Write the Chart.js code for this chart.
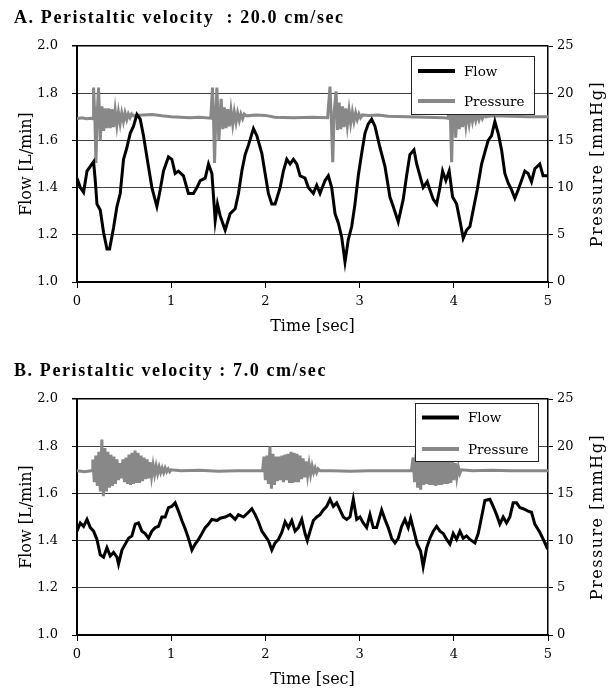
<!DOCTYPE html>
<html>
<head>
<meta charset="utf-8">
<script src="https://cdn.jsdelivr.net/npm/chart.js@4.4.0/dist/chart.umd.min.js"></script>
<style>
  html, body { margin: 0; padding: 0; background: #fff; overflow: hidden; }
  #wrap { position: relative; width: 612px; height: 690px; }
  canvas { position: absolute; left: 0; }
  #chartA { top: 0; }
  #chartB { top: 353px; }
</style>
</head>
<body>
<div id="wrap">
  <canvas id="chartA" width="612" height="353"></canvas>
  <canvas id="chartB" width="612" height="353"></canvas>
</div>
<script>
// tick values
const timeTicks = [0, 1, 2, 3, 4, 5];
const flowTicks = [1.0, 1.2, 1.4, 1.6, 1.8, 2.0];
const pressureTicks = [0, 5, 10, 15, 20, 25];

// A. peristaltic velocity 20.0 cm/sec
const flowTimeA = [0.00,0.035,0.07,0.106,0.141,0.176,0.194,0.212,0.247,0.282,
  0.318,0.346,0.388,0.424,0.459,0.494,0.530,0.565,0.600,0.636,
  0.671,0.706,0.742,0.795,0.848,0.883,0.918,0.971,1.007,1.042,
  1.077,1.130,1.183,1.236,1.273,1.308,1.361,1.396,1.432,1.467,
  1.491,1.520,1.573,1.626,1.679,1.714,1.750,1.785,1.820,1.873,
  1.909,1.962,1.997,2.032,2.068,2.103,2.156,2.191,2.227,2.262,
  2.297,2.333,2.368,2.421,2.456,2.509,2.545,2.580,2.633,2.668,
  2.704,2.739,2.774,2.810,2.845,2.880,2.916,2.951,2.986,3.022,
  3.057,3.092,3.128,3.163,3.216,3.269,3.322,3.357,3.410,3.463,
  3.499,3.534,3.577,3.606,3.641,3.675,3.718,3.747,3.782,3.818,
  3.853,3.881,3.916,3.951,3.987,4.030,4.065,4.100,4.136,4.171,
  4.206,4.248,4.295,4.330,4.365,4.401,4.436,4.471,4.507,4.542,
  4.577,4.613,4.648,4.683,4.719,4.754,4.789,4.825,4.860,4.913,
  4.948,5.000];
const flowA = [1.44,1.40,1.38,1.47,1.49,1.51,1.43,1.33,1.305,1.21,
  1.14,1.14,1.23,1.32,1.375,1.52,1.57,1.63,1.66,1.71,
  1.69,1.62,1.53,1.40,1.32,1.39,1.47,1.53,1.52,1.46,
  1.47,1.45,1.375,1.375,1.40,1.43,1.44,1.50,1.46,1.26,
  1.33,1.28,1.22,1.29,1.31,1.375,1.47,1.54,1.58,1.65,
  1.62,1.545,1.46,1.375,1.33,1.33,1.40,1.47,1.52,1.50,
  1.52,1.50,1.45,1.44,1.40,1.375,1.41,1.375,1.43,1.45,
  1.40,1.29,1.25,1.19,1.085,1.18,1.235,1.33,1.45,1.545,
  1.63,1.67,1.69,1.66,1.57,1.49,1.36,1.32,1.255,1.35,
  1.45,1.54,1.56,1.50,1.45,1.40,1.425,1.39,1.35,1.33,
  1.40,1.47,1.43,1.47,1.36,1.33,1.26,1.185,1.22,1.235,
  1.305,1.39,1.50,1.55,1.60,1.62,1.68,1.63,1.56,1.46,
  1.42,1.39,1.355,1.39,1.43,1.47,1.46,1.425,1.48,1.50,
  1.45,1.45];
const presTimeA = [0,0.05,0.10,0.15,0.17,0.176,0.19,0.201,0.215,0.229,
  0.247,0.265,0.283,0.30,0.318,0.335,0.353,0.37,0.388,0.405,
  0.423,0.44,0.458,0.475,0.493,0.51,0.528,0.545,0.563,0.58,
  0.60,0.70,0.80,0.90,1.00,1.10,1.20,1.30,1.42,1.438,
  1.45,1.46,1.475,1.485,1.506,1.53,1.548,1.565,1.583,1.60,
  1.618,1.635,1.653,1.67,1.688,1.705,1.723,1.74,1.758,1.775,
  1.80,1.90,2.00,2.10,2.30,2.50,2.66,2.686,2.70,2.715,
  2.73,2.75,2.765,2.783,2.80,2.818,2.835,2.853,2.87,2.888,
  2.905,2.923,2.94,2.958,2.975,2.993,3.01,3.03,3.10,3.20,
  3.30,3.50,3.70,3.90,3.94,3.955,3.965,3.977,3.99,4.00,
  4.02,4.04,4.058,4.075,4.093,4.11,4.128,4.145,4.163,4.18,
  4.198,4.215,4.233,4.25,4.268,4.285,4.303,4.32,4.34,4.40,
  4.60,4.80,5.00];
const presA = [17.3,17.4,17.3,17.35,17.3,20.6,17.2,12.6,18.0,20.6,
  15.0,18.6,16.0,18.4,16.3,18.4,16.3,18.3,16.4,18.2,
  16.6,18.0,16.8,17.9,17.0,17.9,17.2,17.8,17.4,17.8,
  17.6,17.7,17.75,17.6,17.5,17.45,17.4,17.45,17.35,20.6,
  17.0,12.6,18.0,20.6,15.0,19.4,16.2,18.5,16.3,18.3,
  16.5,18.2,16.7,18.0,16.9,17.9,17.1,17.8,17.3,17.8,
  17.6,17.7,17.65,17.45,17.4,17.45,17.4,20.7,17.0,12.7,
  18.0,20.2,16.1,19.0,16.2,18.6,16.4,18.4,16.6,18.2,
  16.8,18.0,17.0,17.9,17.2,17.8,17.4,17.7,17.65,17.7,
  17.55,17.5,17.45,17.4,17.35,20.5,17.0,12.7,18.0,20.4,
  15.3,18.8,16.2,18.5,16.4,18.3,16.6,18.1,16.8,18.0,
  17.0,17.9,17.1,17.8,17.2,17.8,17.3,17.7,17.5,17.6,
  17.55,17.5,17.5];

// B. peristaltic velocity 7.0 cm/sec
const flowTimeB = [0,0.035,0.07,0.106,0.141,0.176,0.212,0.247,0.282,0.318,
  0.353,0.388,0.424,0.441,0.477,0.512,0.547,0.583,0.618,0.653,
  0.689,0.724,0.759,0.795,0.830,0.865,0.901,0.936,0.971,1.007,
  1.042,1.077,1.113,1.148,1.183,1.220,1.254,1.290,1.326,1.361,
  1.396,1.432,1.485,1.520,1.573,1.626,1.679,1.714,1.767,1.820,
  1.856,1.891,1.926,1.962,1.997,2.032,2.068,2.103,2.138,2.174,
  2.209,2.244,2.280,2.315,2.350,2.386,2.421,2.445,2.474,2.509,
  2.545,2.580,2.615,2.651,2.686,2.721,2.757,2.792,2.827,2.863,
  2.898,2.933,2.969,3.004,3.039,3.075,3.110,3.145,3.181,3.234,
  3.269,3.304,3.340,3.375,3.410,3.446,3.481,3.516,3.542,3.577,
  3.612,3.648,3.675,3.712,3.747,3.782,3.818,3.853,3.888,3.924,
  3.959,3.994,4.030,4.065,4.100,4.136,4.171,4.224,4.259,4.295,
  4.330,4.383,4.418,4.454,4.489,4.524,4.560,4.595,4.630,4.666,
  4.701,4.736,4.789,4.825,4.860,4.913,4.956,4.984,5.000];
const flowB = [1.44,1.475,1.46,1.49,1.455,1.44,1.405,1.34,1.33,1.37,
  1.335,1.35,1.33,1.30,1.36,1.385,1.41,1.42,1.47,1.475,
  1.44,1.43,1.41,1.44,1.455,1.46,1.50,1.50,1.54,1.545,
  1.56,1.525,1.485,1.45,1.41,1.36,1.385,1.405,1.43,1.455,
  1.47,1.49,1.485,1.495,1.50,1.51,1.49,1.51,1.50,1.52,
  1.535,1.51,1.48,1.44,1.42,1.40,1.36,1.39,1.405,1.435,
  1.48,1.455,1.485,1.44,1.455,1.49,1.43,1.40,1.44,1.485,
  1.50,1.51,1.53,1.545,1.575,1.545,1.56,1.53,1.50,1.49,
  1.50,1.575,1.49,1.50,1.475,1.455,1.51,1.455,1.455,1.53,
  1.49,1.455,1.41,1.39,1.41,1.46,1.49,1.455,1.495,1.44,
  1.385,1.355,1.29,1.37,1.41,1.44,1.46,1.44,1.43,1.405,
  1.385,1.43,1.405,1.44,1.41,1.42,1.405,1.39,1.43,1.50,
  1.57,1.575,1.545,1.51,1.47,1.50,1.475,1.50,1.56,1.56,
  1.54,1.535,1.525,1.52,1.47,1.435,1.40,1.375,1.39];
const presTimeB = [0,0.08,0.15,0.16,0.168,0.184,0.20,0.216,0.232,0.248,
  0.264,0.28,0.296,0.312,0.328,0.344,0.36,0.376,0.392,0.408,
  0.424,0.44,0.456,0.472,0.488,0.504,0.52,0.536,0.552,0.568,
  0.584,0.60,0.616,0.632,0.648,0.664,0.68,0.696,0.712,0.728,
  0.744,0.76,0.776,0.792,0.808,0.824,0.84,0.856,0.872,0.888,
  0.904,0.92,0.936,0.952,0.968,0.984,1.00,1.10,1.30,1.50,
  1.70,1.90,1.97,1.985,2.00,2.016,2.032,2.048,2.064,2.08,
  2.096,2.112,2.128,2.144,2.16,2.176,2.192,2.208,2.224,2.24,
  2.256,2.272,2.288,2.304,2.32,2.336,2.352,2.368,2.384,2.40,
  2.416,2.432,2.448,2.464,2.48,2.496,2.512,2.528,2.544,2.56,
  2.58,2.70,2.90,3.10,3.30,3.50,3.55,3.568,3.584,3.60,
  3.616,3.632,3.648,3.664,3.68,3.696,3.712,3.728,3.744,3.76,
  3.776,3.792,3.808,3.824,3.84,3.856,3.872,3.888,3.904,3.92,
  3.936,3.952,3.968,3.984,4.00,4.016,4.032,4.048,4.064,4.08,
  4.20,4.40,4.60,4.80,5.00];
const presB = [17.4,17.3,17.4,17.4,18.6,16.2,19.0,15.8,19.4,15.2,
  20.7,14.7,19.8,15.2,19.4,15.6,19.1,15.8,18.9,16.0,
  18.6,16.4,18.2,16.6,18.6,16.2,18.8,16.0,19.1,15.9,
  19.3,16.0,19.55,16.1,19.3,16.1,19.0,16.3,18.8,16.5,
  18.6,16.6,18.3,16.8,18.0,17.0,17.9,17.1,17.8,17.2,
  17.7,17.2,17.7,17.3,17.6,17.3,17.5,17.4,17.45,17.35,
  17.4,17.4,17.4,18.9,16.4,19.0,16.0,19.97,15.5,19.2,
  15.9,18.9,16.3,18.9,16.4,19.0,16.2,19.1,16.4,19.2,
  16.1,19.4,16.1,19.3,16.2,19.2,16.2,19.0,16.5,18.7,
  16.7,18.4,16.9,18.1,17.0,17.9,17.2,17.7,17.2,17.6,
  17.4,17.4,17.35,17.4,17.4,17.4,17.4,18.8,16.2,19.2,
  15.6,19.4,15.4,19.2,15.9,19.0,16.0,19.1,15.9,19.2,
  15.9,19.1,15.8,19.0,15.9,19.0,15.9,18.9,16.0,18.9,
  16.0,18.7,16.1,18.5,16.4,18.2,16.7,17.8,17.1,17.5,
  17.4,17.45,17.4,17.4,17.4];

const serif = 'DejaVu Serif';
const titleSerif = 'Liberation Serif';

// titles, legend box and right axis title drawn on top of the chart
const panelDecor = {
  id: 'panelDecor',
  afterDatasetsDraw(chart, args, opts) {
    const ctx = chart.ctx;
    const [bx, by, bw, bh] = opts.legendBox;
    ctx.save();
    ctx.fillStyle = '#fff';
    ctx.fillRect(bx, by, bw, bh);
    ctx.strokeStyle = '#222';
    ctx.lineWidth = 1;
    ctx.strokeRect(bx + 0.5, by + 0.5, bw, bh);
    ctx.font = '13.5px "' + serif + '"';
    ctx.textBaseline = 'middle';
    chart.data.datasets.forEach((ds, i) => {
      const rowY = by + opts.rows[i];
      ctx.strokeStyle = ds.borderColor;
      ctx.lineWidth = 4;
      ctx.beginPath();
      ctx.moveTo(bx + 7, rowY);
      ctx.lineTo(bx + 44, rowY);
      ctx.stroke();
      ctx.fillStyle = '#000';
      ctx.fillText(ds.label, bx + 53, rowY + 1);
    });
    ctx.restore();
  },
  afterDraw(chart, args, opts) {
    const ctx = chart.ctx;
    const area = chart.chartArea;
    ctx.save();
    ctx.fillStyle = '#000';
    ctx.font = 'bold 18px "' + titleSerif + '"';
    ctx.textBaseline = 'middle';
    ctx.letterSpacing = '1.6px';
    ctx.fillText(opts.title, 14, 18);
    ctx.font = '16px "' + serif + '"';
    ctx.letterSpacing = '1.5px';
    ctx.translate(598, (area.top + area.bottom) / 2);
    ctx.rotate(-Math.PI / 2);
    ctx.textAlign = 'center';
    ctx.fillText('Pressure [mmHg]', 0, 0);
    ctx.restore();
  }
};

function makePanel(id, flowT, flowV, presT, presV, decor) {
  const tickFont = { family: serif, size: 13 };
  return new Chart(document.getElementById(id), {
    type: 'line',
    data: {
      datasets: [
        { label: 'Flow', yAxisID: 'y', data: flowT.map((t, i) => ({ x: t, y: flowV[i] })),
          borderColor: '#000', borderWidth: 3, pointRadius: 0, tension: 0 },
        { label: 'Pressure', yAxisID: 'y1', data: presT.map((t, i) => ({ x: t, y: presV[i] })),
          borderColor: '#888888', borderWidth: 3, pointRadius: 0, tension: 0 }
      ]
    },
    options: {
      responsive: false,
      animation: false,
      layout: { padding: { top: 46, left: 0, right: 0, bottom: 0 } },
      plugins: { legend: { display: false }, tooltip: { enabled: false }, panelDecor: decor },
      scales: {
        x: {
          type: 'linear', min: 0, max: 5,
          afterBuildTicks: s => { s.ticks = timeTicks.map(v => ({ value: v })); },
          ticks: { font: tickFont, color: '#000', padding: 6 },
          grid: { drawOnChartArea: false, drawTicks: true, tickLength: 6, color: '#000' },
          border: { color: '#000', width: 2 },
          title: { display: true, text: 'Time [sec]', color: '#000',
                   font: { family: serif, size: 16 }, padding: { top: 0, bottom: 17 } },
          afterFit: s => { s.height = 71; }
        },
        y: {
          position: 'left', min: 1, max: 2,
          afterBuildTicks: s => { s.ticks = flowTicks.map(v => ({ value: v })); },
          ticks: { font: tickFont, color: '#000', padding: 14, callback: v => v.toFixed(1) },
          grid: { color: c => (c.tick && c.tick.value === 2 ? '#000' : '#404040'),
                  lineWidth: c => (c.tick && c.tick.value === 2 ? 1.5 : 1),
                  tickColor: '#000', tickLength: 5 },
          border: { color: '#000', width: 2 },
          title: { display: true, text: 'Flow [L/min]', color: '#000',
                   font: { family: serif, size: 16 }, padding: { top: 17 } },
          afterFit: s => { s.width = 77; }
        },
        y1: {
          position: 'right', min: 0, max: 25,
          afterBuildTicks: s => { s.ticks = pressureTicks.map(v => ({ value: v })); },
          ticks: { font: tickFont, color: '#000', padding: 4 },
          grid: { drawOnChartArea: false, tickLength: 5, color: '#000' },
          border: { color: '#000', width: 1.5 },
          afterFit: s => { s.width = 64; }
        }
      }
    },
    plugins: [panelDecor]
  });
}

makePanel('chartA', flowTimeA, flowA, presTimeA, presA, {
  title: 'A. Peristaltic velocity  : 20.0 cm/sec',
  legendBox: [411, 56, 123, 58], rows: [15, 45]
});
makePanel('chartB', flowTimeB, flowB, presTimeB, presB, {
  title: 'B. Peristaltic velocity : 7.0 cm/sec',
  legendBox: [415, 50, 123, 58], rows: [14.5, 46]
});
</script>
</body>
</html>
